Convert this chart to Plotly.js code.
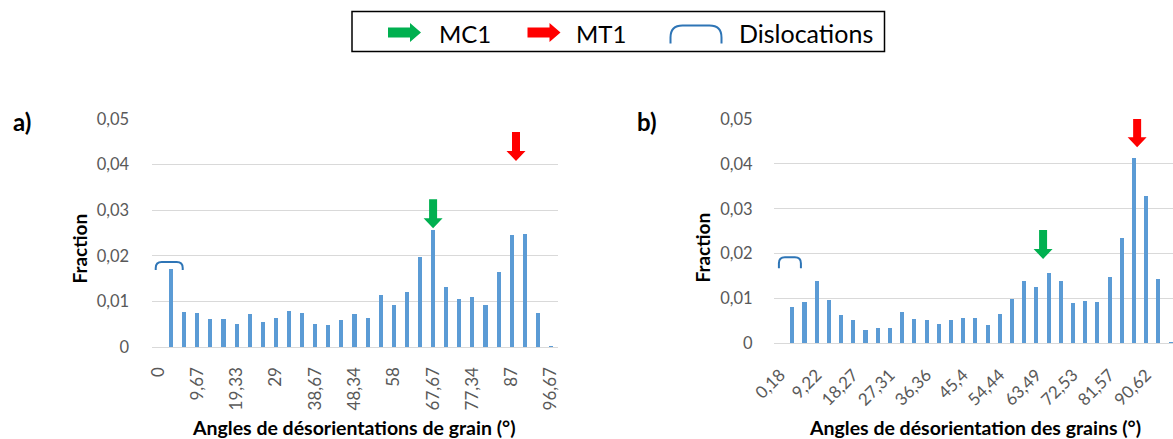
<!DOCTYPE html>
<html>
<head>
<meta charset="utf-8">
<script src="https://cdn.plot.ly/plotly-3.0.1.min.js"></script>
<style>html,body{margin:0;padding:0;background:#fff}#chart{width:1173px;height:439px}</style>
</head>
<body>
<div id="chart"></div>
<script>
// ---- data (a) ----
const leftAngles = [0, 3.22, 6.44, 9.67, 12.89, 16.11, 19.33, 22.56, 25.78, 29, 32.22, 35.45, 38.67, 41.89, 45.11, 48.34, 51.56, 54.78, 58, 61.22, 64.45, 67.67, 70.89, 74.11, 77.34, 80.56, 83.78, 87, 90.23, 93.45, 96.67];
const leftFraction = [0, 0.0171, 0.0078, 0.0076, 0.0062, 0.0062, 0.0052, 0.0073, 0.0055, 0.0065, 0.0079, 0.0076, 0.0051, 0.0048, 0.0060, 0.0073, 0.0065, 0.0114, 0.0092, 0.0121, 0.0197, 0.0258, 0.0131, 0.0105, 0.0111, 0.0093, 0.0164, 0.0247, 0.0249, 0.0076, 0.0003];
const leftTickVals = [0, 9.67, 19.33, 29, 38.67, 48.34, 58, 67.67, 77.34, 87, 96.67];
const leftTickText = ["0", "9,67", "19,33", "29", "38,67", "48,34", "58", "67,67", "77,34", "87", "96,67"];

// ---- data (b) ----
const rightAngles = [0.18, 3.19, 6.21, 9.22, 12.24, 15.25, 18.27, 21.28, 24.30, 27.31, 30.33, 33.34, 36.36, 39.37, 42.39, 45.40, 48.42, 51.43, 54.44, 57.46, 60.47, 63.49, 66.50, 69.52, 72.53, 75.55, 78.56, 81.57, 84.59, 87.60, 90.62, 93.63, 96.65];
const rightFraction = [0, 0.0082, 0.0091, 0.0138, 0.0097, 0.0064, 0.0051, 0.0030, 0.0035, 0.0035, 0.0069, 0.0054, 0.0053, 0.0043, 0.0051, 0.0056, 0.0056, 0.0040, 0.0065, 0.0098, 0.0140, 0.0125, 0.0156, 0.0140, 0.0090, 0.0094, 0.0093, 0.0148, 0.0235, 0.0412, 0.0329, 0.0144, 0.0002];
const rightTickVals = [0.18, 9.22, 18.27, 27.31, 36.36, 45.4, 54.44, 63.49, 72.53, 81.57, 90.62];
const rightTickText = ["0,18", "9,22", "18,27", "27,31", "36,36", "45,4", "54,44", "63,49", "72,53", "81,57", "90,62"];

// ---- markers: [angle, fraction] of arrow tips / bracket tops ----
const leftMC1 = [67.67, 0.0261];
const leftMT1 = [88.07, 0.0408];
const leftDislocation = [2.75, 0.0187];
const rightMC1 = [65.15, 0.0188];
const rightMT1 = [88.39, 0.0437];
const rightDislocation = [2.6, 0.0192];

const W = 1173, H = 439;
const FONT = "Lato, 'Open Sans', sans-serif";
const BAR = '#5B9BD5', GREEN = '#00B050', RED = '#FF0000', BLUE = '#2E75B6';
const px = v => v / W, py = v => 1 - v / H;

const traces = [
  {type: 'bar', x: leftAngles, y: leftFraction, xaxis: 'x', yaxis: 'y', marker: {color: BAR}, width: 1.0, hoverinfo: 'x+y', showlegend: false},
  {type: 'bar', x: rightAngles, y: rightFraction, xaxis: 'x2', yaxis: 'y2', marker: {color: BAR}, width: 1.0, hoverinfo: 'x+y', showlegend: false}
];

const yTickFont = {family: FONT, size: 16.5, color: '#595959'};
const xTickFont = {family: FONT, size: 17, color: '#595959'};
const yCommon = {range: [0, 0.05], dtick: 0.01, tick0: 0, showgrid: true, gridcolor: '#D9D9D9', gridwidth: 1,
  zeroline: true, zerolinecolor: '#D9D9D9', zerolinewidth: 1, showline: false,
  ticks: 'outside', ticklen: 18, tickcolor: 'rgba(0,0,0,0)', tickfont: yTickFont, fixedrange: true};

// block arrow pointing down, tip at anchor (pixel path, y up)
const downArrow = 'M -4 29 L 4 29 L 4 10 L 9.5 10 L 0 0 L -9.5 10 L -4 10 Z';
const rightArrow = 'M 0 -5 L 22 -5 L 22 -9.5 L 33 0 L 22 9.5 L 22 5 L 0 5 Z';
function bracket(w, h, r) {
  const a = -w / 2, b = w / 2;
  return `M ${a} ${-h} L ${a} ${-r} Q ${a} 0 ${a + r} 0 L ${b - r} 0 Q ${b} 0 ${b} ${-r} L ${b} ${-h}`;
}
function arrowShape(xref, yref, pos, color) {
  return {type: 'path', xref, yref, xsizemode: 'pixel', ysizemode: 'pixel', xanchor: pos[0], yanchor: pos[1],
    path: downArrow, fillcolor: color, line: {width: 0}, layer: 'above'};
}
function bracketShape(xref, yref, pos, w, h) {
  return {type: 'path', xref, yref, xsizemode: 'pixel', ysizemode: 'pixel', xanchor: pos[0], yanchor: pos[1],
    path: bracket(w, h, 6), line: {color: BLUE, width: 2}, layer: 'above'};
}

const shapes = [
  arrowShape('x', 'y', leftMC1, GREEN),
  arrowShape('x', 'y', leftMT1, RED),
  arrowShape('x2', 'y2', rightMC1, GREEN),
  arrowShape('x2', 'y2', rightMT1, RED),
  bracketShape('x', 'y', leftDislocation, 27, 8),
  bracketShape('x2', 'y2', rightDislocation, 22, 11),
  // legend box
  {type: 'rect', xref: 'paper', yref: 'paper', x0: px(352), x1: px(884.5), y0: py(51.5), y1: py(11.5),
    line: {color: '#000', width: 1.5}, fillcolor: 'rgba(0,0,0,0)'},
  {type: 'path', xref: 'paper', yref: 'paper', xsizemode: 'pixel', ysizemode: 'pixel', xanchor: px(388), yanchor: py(32.5),
    path: rightArrow, fillcolor: GREEN, line: {width: 0}},
  {type: 'path', xref: 'paper', yref: 'paper', xsizemode: 'pixel', ysizemode: 'pixel', xanchor: px(527.5), yanchor: py(32.5),
    path: rightArrow, fillcolor: RED, line: {width: 0}},
  {type: 'path', xref: 'paper', yref: 'paper', xsizemode: 'pixel', ysizemode: 'pixel', xanchor: px(696), yanchor: py(25.5),
    path: bracket(51, 18, 12), line: {color: BLUE, width: 2}}
];

const titleFont = {family: FONT, size: 19.5, color: '#000'};
const yTitleFont = {family: FONT, size: 19, color: '#000'};
const annotations = [
  {text: '<b>a)</b>', xref: 'paper', yref: 'paper', x: px(21.5), y: py(122), xanchor: 'center', yanchor: 'middle', showarrow: false, font: {family: FONT, size: 24, color: '#000'}},
  {text: '<b>b)</b>', xref: 'paper', yref: 'paper', x: px(647), y: py(122), xanchor: 'center', yanchor: 'middle', showarrow: false, font: {family: FONT, size: 24, color: '#000'}},
  {text: '<b>Fraction</b>', xref: 'paper', yref: 'paper', x: px(78.5), y: py(249), xanchor: 'center', yanchor: 'middle', textangle: -90, showarrow: false, font: yTitleFont},
  {text: '<b>Fraction</b>', xref: 'paper', yref: 'paper', x: px(701.5), y: py(248), xanchor: 'center', yanchor: 'middle', textangle: -90, showarrow: false, font: yTitleFont},
  {text: '<b>Angles de désorientations de grain (°)</b>', xref: 'paper', yref: 'paper', x: px(353), y: py(427), xanchor: 'center', yanchor: 'middle', showarrow: false, font: titleFont},
  {text: '<b>Angles de désorientation des grains (°)</b>', xref: 'paper', yref: 'paper', x: px(975), y: py(427), xanchor: 'center', yanchor: 'middle', showarrow: false, font: titleFont},
  {text: 'MC1', xref: 'paper', yref: 'paper', x: px(437), y: py(33), xanchor: 'left', yanchor: 'middle', showarrow: false, font: {family: FONT, size: 24, color: '#000'}},
  {text: 'MT1', xref: 'paper', yref: 'paper', x: px(574), y: py(33), xanchor: 'left', yanchor: 'middle', showarrow: false, font: {family: FONT, size: 24, color: '#000'}},
  {text: 'Dislocations', xref: 'paper', yref: 'paper', x: px(737), y: py(33), xanchor: 'left', yanchor: 'middle', showarrow: false, font: {family: FONT, size: 25, color: '#000'}}
];

const layout = {
  width: W, height: H,
  margin: {l: 0, r: 0, t: 0, b: 0, pad: 0},
  paper_bgcolor: '#fff', plot_bgcolor: '#fff',
  separators: ', ',
  font: {family: FONT},
  showlegend: false,
  bargap: 0,
  xaxis: {domain: [px(151.5), px(557.5)], range: [-1.61, 98.28], type: 'linear', anchor: 'y',
    tickmode: 'array', tickvals: leftTickVals, ticktext: leftTickText, tickangle: -90,
    ticks: 'outside', ticklen: 12, tickcolor: 'rgba(0,0,0,0)', tickfont: xTickFont,
    showgrid: false, zeroline: false, showline: false, fixedrange: true},
  yaxis: Object.assign({}, yCommon, {domain: [py(347.3), py(119)], anchor: 'x'}),
  xaxis2: {domain: [px(774), 1], range: [-1.33, 97.25], type: 'linear', anchor: 'y2',
    tickmode: 'array', tickvals: rightTickVals, ticktext: rightTickText, tickangle: -45,
    ticks: 'outside', ticklen: 14, tickcolor: 'rgba(0,0,0,0)', tickfont: xTickFont,
    showgrid: false, zeroline: false, showline: false, fixedrange: true},
  yaxis2: Object.assign({}, yCommon, {domain: [py(343.3), py(119)], anchor: 'x2', ticklen: 17}),
  shapes: shapes,
  annotations: annotations
};

Plotly.newPlot('chart', traces, layout, {displayModeBar: false, staticPlot: true});
</script>
</body>
</html>
